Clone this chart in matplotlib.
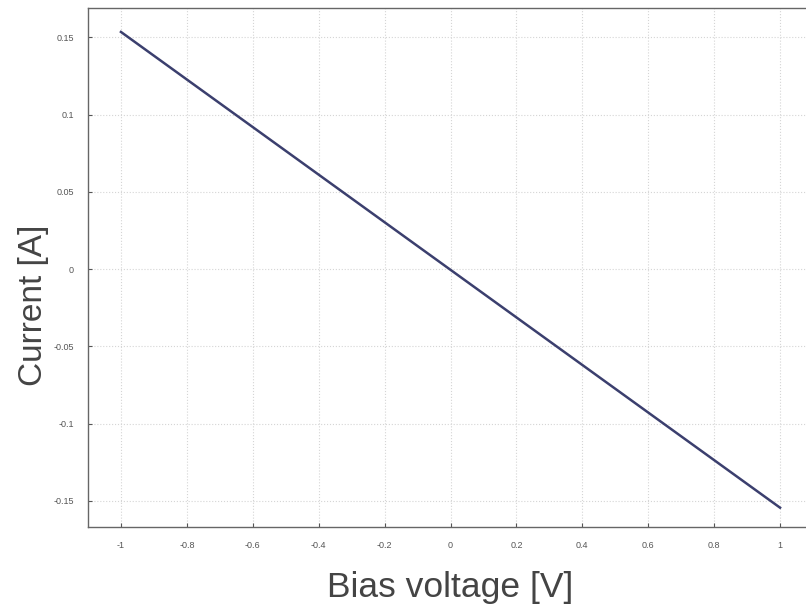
import matplotlib
matplotlib.use("Agg")
import matplotlib.pyplot as plt

voltage = [-1.0, 1.0]
current = [0.1535, -0.1545]
xticks = [-1, -0.8, -0.6, -0.4, -0.2, 0, 0.2, 0.4, 0.6, 0.8, 1]
yticks = [-0.15, -0.1, -0.05, 0, 0.05, 0.1, 0.15]

plt.rcParams['font.family'] = ['Liberation Sans', 'DejaVu Sans']
fig = plt.figure(figsize=(8.06, 6.15), dpi=100)
ax = fig.add_axes([88/806, (615-527)/615, 725/806, 519/615])
ax.plot(voltage, current, color='#3b3f6e', lw=1.8)
ax.set_xlim(-1.1, 1.1)
ax.set_ylim(-0.167, 0.169)
ax.set_xticks(xticks)
ax.set_xticklabels(['-1', '-0.8', '-0.6', '-0.4', '-0.2', '0', '0.2', '0.4', '0.6', '0.8', '1'])
ax.set_yticks(yticks)
ax.set_yticklabels(['-0.15', '-0.1', '-0.05', '0', '0.05', '0.1', '0.15'])
ax.tick_params(direction='in', length=3, labelsize=6.5, colors='#555555', pad=10)
ax.grid(True, color='#d5d5d5', linestyle=':', linewidth=0.8)
for s in ax.spines.values():
    s.set_color('#666666')
    s.set_linewidth(1.0)
ax.set_xlabel('Bias voltage [V]', fontsize=25.5, color='#444444')
ax.set_ylabel('Current [A]', fontsize=24, color='#444444')
ax.xaxis.set_label_coords(0.5, -0.084)
ax.yaxis.set_label_coords(-0.054, 0.428)
fig.savefig('out.png', dpi=100)
